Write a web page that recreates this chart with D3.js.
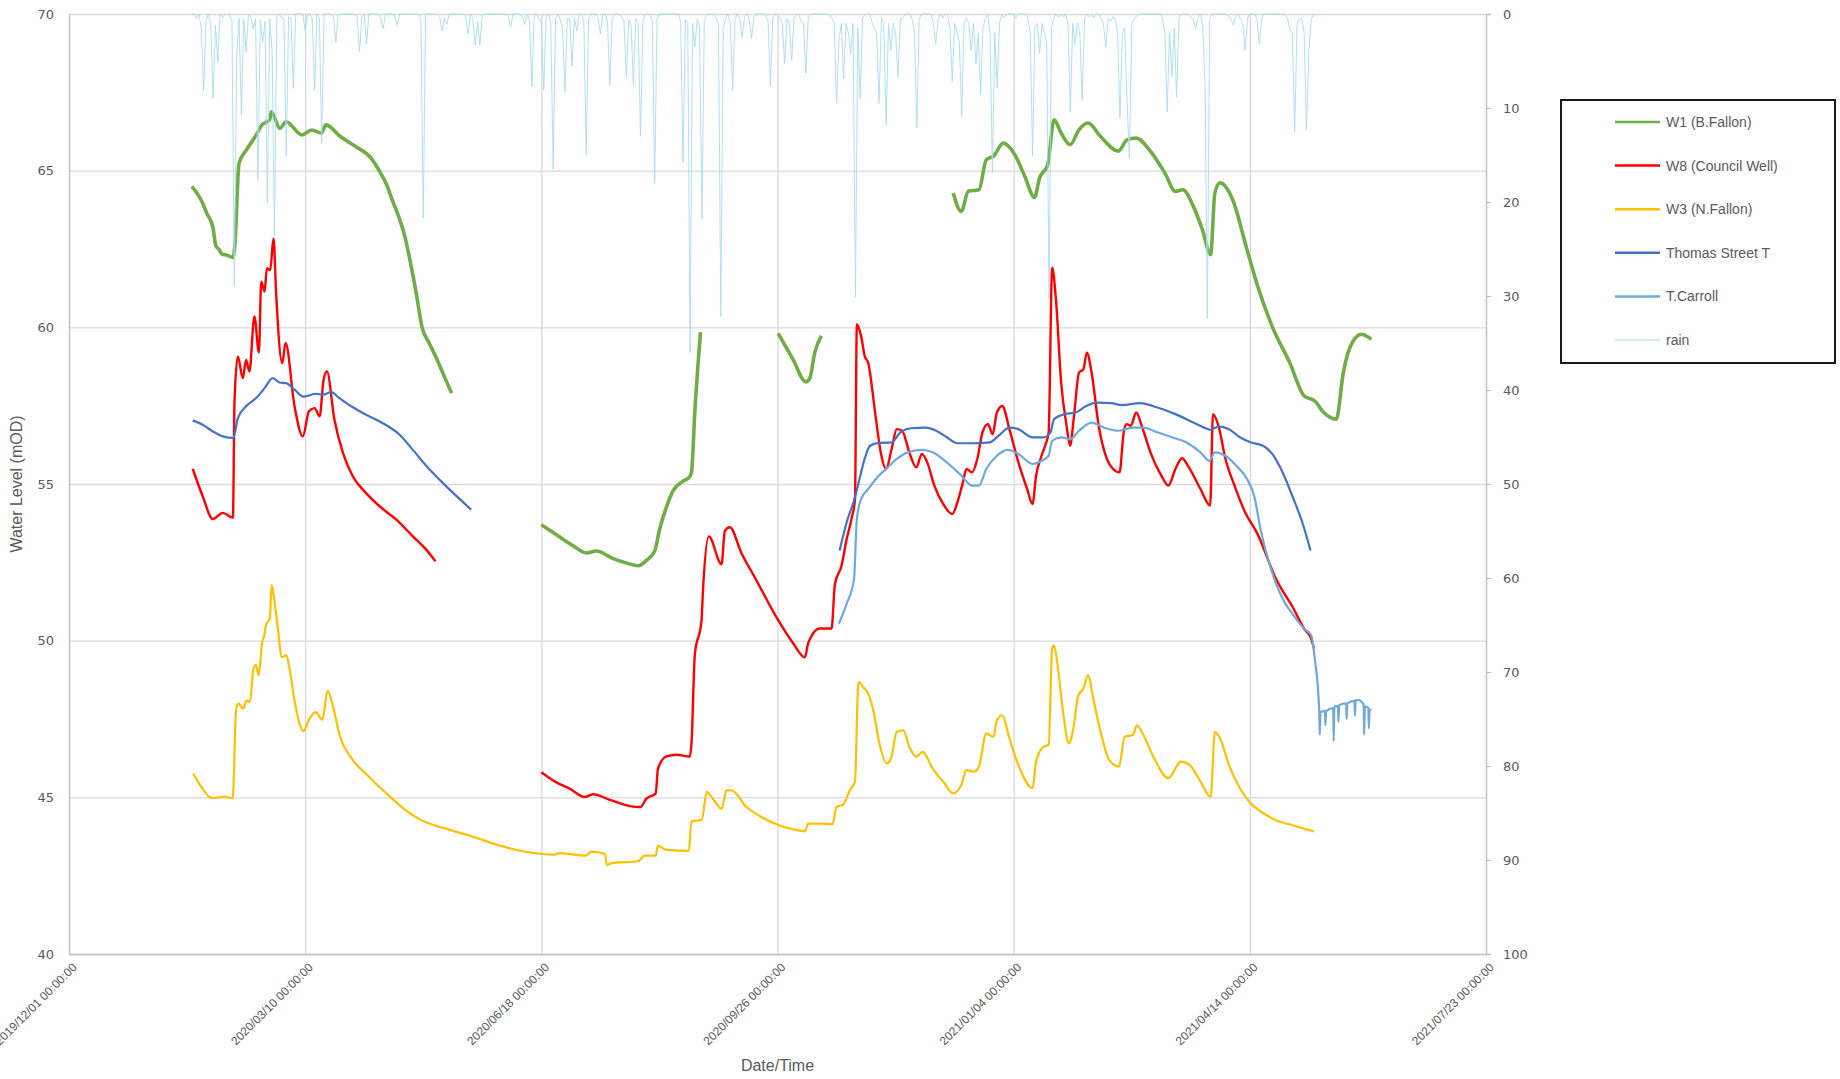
<!DOCTYPE html>
<html>
<head>
<meta charset="utf-8">
<script src="https://cdn.jsdelivr.net/npm/d3@7"></script>
<style>
  body { margin: 0; background: #fff; }
  svg { display: block; }
</style>
</head>
<body>
<div id="chart"></div>
<script>
// ---- data (days counted from 2019/12/01) ----
var tickLabels = ["2019/12/01 00:00:00","2020/03/10 00:00:00","2020/06/18 00:00:00","2020/09/26 00:00:00",
                  "2021/01/04 00:00:00","2021/04/14 00:00:00","2021/07/23 00:00:00"];
var levelTicks = [40,45,50,55,60,65,70];
var rainTicks = [0,10,20,30,40,50,60,70,80,90,100];
var seriesNames = ["W1 (B.Fallon)","W8 (Council Well)","W3 (N.Fallon)","Thomas Street T","T.Carroll","rain"];

// W1 (B.Fallon) - segments with logger gaps
var w1 = [
  [[52,64.5],[56.6,63.96],[58.2,63.66],[60.9,63.2],[62.2,62.6],[63.7,62.47],[64.7,62.34],[67,62.3],[69.5,62.23],[70.2,62.6],
   [72,65.24],[75.2,65.67],[79.3,66.14],[81.7,66.46],[84.9,66.62],[85.7,66.88],[89.3,66.35],[91.9,66.56],[98.7,66.14],
   [102.8,66.3],[106.8,66.2],[108.8,66.46],[114.9,66.09],[121.4,65.77],[127.9,65.4],[131.1,65.03],[134.5,64.55],[136.8,64.08],
   [139.5,63.55],[142,62.96],[144.5,62.1],[147,61.1],[149.5,60.0],[152.5,59.5],[155.5,59.03],[158.8,58.45],[162,57.9]],
  [[200,53.7],[206.4,53.38],[213.4,53.03],[219.1,52.8],[223.3,52.86],[230.4,52.62],[236,52.48],[241,52.39],[244.5,52.56],
   [248,52.86],[250.1,53.56],[253,54.27],[255.8,54.79],[260,55.09],[262.6,55.21],[263.6,55.38],[265,57.32],[267.4,59.85]],
  [[300.3,59.81],[306.6,58.97],[312,58.26],[313.7,58.38],[315.8,59.2],[318.6,59.73]],
  [[374.4,64.29],[377.8,63.7],[380.8,64.34],[385.3,64.39],[388.4,65.35],[391.4,65.46],[395.6,65.88],[400.5,65.51],
   [404.7,64.82],[408.8,64.15],[411,64.77],[414.4,65.19],[417.1,66.62],[420.1,66.2],[423.9,65.83],[427.7,66.31],
   [431.5,66.52],[436.8,66.09],[444.3,65.62],[448.1,65.99],[451.9,66.04],[457.9,65.62],[464,64.93],[468.5,64.34],
   [471.6,64.39],[476.1,63.86],[479.9,63.12],[483.4,62.32],[485.2,64.29],[487.4,64.61],[492.7,64.08],[498.8,62.48],
   [503.3,61.32],[509.4,60.04],[516.9,58.87],[523,57.81],[527.5,57.65],[531.3,57.28],[536.6,57.07],[539.6,58.56],
   [542.7,59.41],[547.2,59.78],[551.4,59.62]]
];

// W8 (Council Well)
var w8 = [
  [[52.4,55.48],[56.6,54.61],[60.9,53.88],[65.1,54.08],[69.4,53.92],[70.1,57.69],[71.5,59.07],[73.6,58.38],[75,58.96],
   [76.4,58.59],[78.5,60.35],[80.4,59.2],[81.4,61.46],[82.8,61.14],[83.8,61.89],[85.2,61.83],[86.6,62.84],[87.7,61.09],
   [90.3,58.86],[91.7,59.5],[95.5,57.48],[99,56.52],[101.6,57.32],[104,57.42],[106.1,57.16],[107.8,58.33],[109.2,58.59],
   [112.4,57.05],[116,55.99],[120.2,55.24],[125.8,54.71],[131.5,54.29],[138.6,53.86],[145.6,53.33],[150.6,52.96],[155.2,52.53]],
  [[200,45.8],[205.6,45.51],[212,45.28],[218.4,45.01],[221.9,45.1],[229,44.92],[237.4,44.72],[241.9,44.69],[244.5,44.96],
   [248.4,45.12],[249.4,45.92],[253,46.31],[257.2,46.36],[262.9,46.3],[263.6,46.75],[265,49.57],[267.8,50.62],[268.5,51.68],
   [270.9,53.33],[276.3,52.44],[277.7,53.5],[279.8,53.62],[284.7,52.8],[291.1,51.92],[299.6,50.74],[306.6,49.92],
   [311.6,49.47],[313,49.92],[317.9,50.39],[322.9,50.39],[324.3,51.8],[327.1,52.39],[329.2,53.21],[331.4,53.91],
   [332.8,54.5],[333.6,60.1],[335.4,59.72],[336.9,59.09],[338.4,58.87],[341.5,57.18],[343.7,56.01],[346,55.48],
   [348.3,56.11],[350.5,56.75],[352.8,56.7],[355.8,56.01],[358.8,55.53],[361.1,55.96],[363.4,55.69],[366.4,54.95],
   [370.2,54.36],[374,54.04],[376.2,54.42],[378.5,55.05],[380,55.48],[382.3,55.37],[384.6,55.8],[386.8,56.65],
   [389.1,56.91],[391.1,56.59],[392.9,57.28],[395.2,57.49],[398.2,56.75],[402,55.69],[405.7,54.84],[408,54.36],
   [409.5,55.27],[411.8,55.9],[413.3,56.22],[414.8,56.65],[416.3,61.9],[417.9,60.89],[420.1,58.24],[422.4,56.86],
   [423.9,56.22],[425.4,57.07],[427.7,58.56],[429.5,58.66],[431,59.19],[433,58.56],[436,56.86],[439,55.9],[442.1,55.48],
   [444.8,55.37],[446.6,56.65],[447.8,56.91],[449.6,56.86],[451.9,57.28],[454.2,56.86],[457.9,56.01],[462.5,55.27],
   [465.5,54.95],[468.5,55.48],[471.3,55.82],[473.8,55.58],[479.1,54.84],[483.2,54.31],[484.4,57.23],[486.7,56.86],
   [489.7,55.8],[493.5,54.95],[498,54.1],[503.3,53.4],[510.9,52.0],[518.5,51.02],[523,50.38],[526,50.06],[527.2,49.75]]
];

// W3 (N.Fallon)
var w3 = [
  [[52.6,45.76],[55.5,45.39],[60.6,44.97],[65.7,45.02],[69.3,44.97],[70.8,47.83],[71.8,47.99],[73.7,47.83],[75.2,48.09],
   [76.6,48.04],[78.1,49.1],[79.1,49.23],[80.3,48.89],[81.8,49.95],[82.5,50.11],[83.5,50.53],[85,50.69],[85.8,51.77],
   [86.9,51.32],[88.3,50.48],[90.2,49.47],[92,49.54],[93.4,49.1],[95.6,48.04],[99.3,47.11],[101.5,47.46],[104.4,47.72],
   [107.3,47.48],[109.5,48.41],[111.7,47.93],[114.6,46.98],[119.7,46.24],[127,45.66],[134.3,45.13],[141.6,44.65],
   [148.9,44.28],[159.1,44.01],[170.8,43.75],[181,43.49],[192.7,43.27],[205.8,43.17],[207.3,43.22],[219,43.14],
   [221.2,43.27],[227,43.19],[227.7,42.85],[229.9,42.9],[240.9,42.96],[243.8,43.14],[248.5,43.14],[249.3,43.46],
   [252.6,43.33],[262.5,43.29],[263.5,44.23],[267.9,44.28],[270.1,45.18],[271.5,45.07],[274.5,44.76],[276.3,44.63],
   [278.4,45.22],[280.5,45.22],[286.9,44.69],[293.9,44.34],[301,44.1],[306.6,43.98],[311.6,43.92],[313,44.16],
   [317.9,44.16],[323.3,44.14],[325,44.69],[327.8,44.77],[330.6,45.22],[332.8,45.51],[334.2,48.62],[334.6,48.68],
   [336.2,48.52],[338.4,48.31],[340.7,47.73],[343,46.77],[346.3,46.08],[348.3,46.3],[350.5,47.09],[353.3,47.14],
   [355.8,46.61],[358.8,46.3],[361.4,46.45],[365.7,45.92],[370.2,45.5],[374.4,45.13],[377.8,45.39],[380,45.87],
   [383.1,45.82],[385.3,45.98],[388.4,47.04],[391.4,46.93],[392.9,47.46],[395.2,47.62],[398.2,46.88],[402,46.03],
   [408,45.29],[409.5,46.14],[412.6,46.61],[414.8,46.67],[416.3,49.75],[417.1,49.85],[418.6,49.21],[420.9,47.73],
   [423.4,46.72],[425.4,47.25],[427.4,48.26],[429.5,48.47],[431.5,48.9],[433.7,48.15],[436.8,47.09],[440.5,46.19],
   [444.6,45.98],[447,46.93],[450.4,46.99],[452.2,47.3],[454.9,46.99],[459.5,46.24],[465.5,45.61],[470.8,46.14],
   [474.6,46.03],[479.1,45.5],[483.4,45.02],[485.2,47.09],[487.4,46.88],[491.2,46.03],[495.8,45.29],[500.3,44.81],
   [504.8,44.54],[510.9,44.28],[518.5,44.1],[527.2,43.91]]
];

// Thomas Street T
var thomas = [
  [[52.4,57.03],[56.6,56.89],[60.9,56.68],[65.1,56.52],[69.6,56.47],[71.5,57.1],[75,57.48],[79.9,57.79],[82.8,58.06],
   [86.3,58.38],[89.1,58.24],[91.9,58.22],[95.5,58.01],[99.3,57.79],[104.7,57.88],[107.5,57.85],[111,57.93],[114.5,57.74],
   [119.5,57.48],[125.8,57.21],[132.9,56.94],[140,56.57],[145.6,56.09],[152.7,55.46],[161.2,54.82],[170.3,54.18]],
  [[326.3,52.88],[329.3,53.78],[332.4,54.47],[335.4,55.37],[336.9,55.8],[339.2,56.22],[343,56.31],[348.3,56.33],
   [352,56.65],[356.6,56.78],[362.6,56.8],[367.2,56.7],[371.7,56.49],[376.2,56.3],[382.3,56.3],[389.9,56.33],
   [393.6,56.54],[398.2,56.8],[402,56.75],[408,56.49],[412.6,56.49],[415.6,56.65],[417.1,57.07],[421.6,57.23],
   [426.2,57.28],[430.7,57.49],[435.2,57.6],[441.3,57.58],[445.8,57.52],[453.4,57.58],[460.9,57.44],[468.5,57.23],
   [476.1,56.96],[480.6,56.8],[483.4,56.73],[486.7,56.84],[491.2,56.75],[495.8,56.49],[500.3,56.33],[505.6,56.22],
   [510.1,55.9],[513.9,55.37],[518.5,54.52],[522.2,53.78],[525.7,52.88]]
];

// T.Carroll
var carroll = [
  [[326,50.54],[329.3,51.18],[332.4,51.97],[333.6,53.89],[335.4,54.52],[338.4,54.84],[342.2,55.21],[346,55.48],
   [350.5,55.8],[355.1,56.01],[361.1,56.09],[365.7,56.01],[371.7,55.69],[377.8,55.27],[382.3,54.95],[385.3,54.95],
   [388.4,55.48],[392.9,55.9],[397.4,56.09],[402,55.96],[408,55.64],[411.8,55.74],[414.8,55.9],[416.3,56.38],
   [420.1,56.49],[423.9,56.43],[427.7,56.7],[433,56.96],[438.3,56.8],[444.3,56.7],[450.4,56.8],[454.9,56.8],
   [460.9,56.65],[467,56.49],[473,56.33],[479.1,56.01],[482.9,55.74],[485.2,56.01],[489.7,55.9],[494.3,55.58],
   [498.8,55.16],[501.8,54.63],[504.8,53.46],[509.4,52.19],[513.9,51.34],[518.5,50.81],[523,50.38],[526,50.17],
   [527.5,49.43],[529.4,47.73],[529.6,47.0],[529.9,47.73],[531.8,47.75],[532,47.3],[532.3,47.75],[535.3,47.85],
   [535.5,46.8],[535.8,47.9],[537.3,47.9],[537.5,47.4],[537.8,47.95],[540.8,48.0],[541,47.5],[541.3,48.0],
   [544.3,48.08],[544.5,47.6],[544.8,48.1],[546,48.1],[548.2,47.95],[548.4,47.0],[548.7,47.9],[550.2,47.85],
   [550.4,47.2],[550.7,47.8],[551.4,47.78]]
];

// daily rain (mm), first value is day 52
var rainStartDay = 52;
var rain = [
  0,0,0.5,0,1.5,8.1,0.7,0,1.0,9.0,
  1.2,5.1,0,0.4,0,0,0,0.8,28.9,4.4,
  0.5,10.7,0.6,4.0,0,0.4,1.6,0.5,17.6,0.6,
  3.0,0.8,20.1,0.5,3.9,23.6,0.3,0,0.4,0.5,
  15.1,0.3,0.5,7.9,0,0,0,0,1.8,0,
  0,0.6,8.1,0,0.4,13.7,0,0,0,0,
  0.3,3.0,0,0,0,0,0,0,0,0,
  0.5,4.0,0.4,0,3.2,0,0,0,0,0,
  0.4,1.6,0,0,0,0,0.3,1.2,0,0,
  0,0,0,0,0,0,0,0.5,21.7,0,
  0,0,0,0,0,0.4,1.8,0.5,1.1,0,
  0,0,0,0,0,0,0.4,2.1,0,0.5,
  3.3,0.8,3.3,0,0,0,0,0,0,0,
  0,0,0,0,0.3,1.4,0,0,0,0,
  0.4,1.1,0,0.6,7.7,0,0,0.5,1.0,8.1,
  0.4,0,0.8,16.5,0.5,0,0.6,1.5,8.3,0.5,
  0.5,5.5,0.4,1.8,0,0,0.8,15.0,0.5,0,
  0,0,0.4,2.1,0,0,0.8,7.6,0.5,0,
  0,0,0.3,0.8,6.7,0.6,1.2,7.6,0.5,1.0,
  13.0,0.8,0,0,0,0.8,18.0,0.5,0,0,
  0,0,0,0,0,0,0,0.8,15.8,0.6,
  1.0,36.0,1.0,3.5,0.5,1.5,21.8,0.8,0,0,
  0,0,0.5,1.0,32.2,1.5,0.5,0,1.0,8.1,
  0.5,0,0.5,2.5,0.3,0,0.6,2.6,0.4,0,
  0,0,0,0,0.8,7.7,0.4,0,0,0.5,
  1.0,5.3,0.5,1.0,4.9,0.5,0,0,0.8,1.0,
  6.3,0.5,0,0,0,0,0,0,0,0,
  0,0.5,1.0,9.5,2.8,1.0,6.9,1.0,2.0,4.2,
  1.0,30.1,1.5,9.0,0.5,0,0,0,0.8,1.5,
  2.0,9.5,0.4,1.0,11.8,1.0,3.9,1.0,2.0,6.7,
  0.5,0.5,0,0,0,0.5,2.0,12.1,0.5,0,
  0,0,0,0,1.0,3.2,0.5,0,0.4,0,
  0,1.5,7.2,1.0,2.0,3.0,10.9,1.0,0.4,1.0,
  3.9,1.0,5.3,2.0,8.5,1.5,0.5,0,2.0,16.9,
  2.0,7.9,1.0,0,0.4,0,0,0,0,0.5,
  0,0,0,0,0.5,2.0,15.1,1.5,1.0,4.2,
  1.0,2.0,3.0,30.3,1.5,0.5,0,0.4,0,0.3,
  0,1.0,10.4,1.0,3.2,1.0,2.0,9.2,0.5,0,
  0.3,0,0.4,0,0,0.5,1.0,3.5,0.5,0.8,
  0.3,0.5,2.0,11.1,2.0,1.5,9.2,15.3,1.0,0.5,
  0.3,0,0,0,0,0,0,0,0,0,
  0,0.5,2.0,10.4,2.0,6.7,1.5,8.8,0.5,0,
  0,0,0,0.4,0.5,1.6,0.4,0,1.0,6.9,
  32.4,0.5,0,0,0,0,0,0,0,0.3,
  0.5,1.2,0.3,0,0.5,1.0,3.9,0.5,0,0,
  0,0.5,3.2,0.5,0,0,0,0,0,0,
  0,0,0,0,0.5,1.8,2.0,12.5,1.0,0.5,
  0.5,2.0,12.3,3.9,0.5,0
];

// ---- chart ----
var W = 1840, H = 1079;
var margin = {top: 14, right: 354, bottom: 125, left: 69};
var plotW = W - margin.left - margin.right;   // 1417
var plotH = H - margin.top - margin.bottom;   // 940

var parseTick = d3.utcParse("%Y/%m/%d %H:%M:%S");
var tickDates = tickLabels.map(parseTick);
var t0 = tickDates[0];
function toDate(day) { return new Date(t0.getTime() + day * 864e5); }

var x = d3.scaleUtc().domain([tickDates[0], tickDates[tickDates.length - 1]]).range([0, plotW]);
var yL = d3.scaleLinear().domain([40, 70]).range([plotH, 0]);
var yR = d3.scaleLinear().domain([0, 100]).range([0, plotH]);

var svg = d3.select("#chart").append("svg").attr("width", W).attr("height", H);
var g = svg.append("g").attr("transform", "translate(" + margin.left + "," + margin.top + ")");

var gridColor = "#d9d9d9", axisColor = "#bfbfbf", textColor = "#595959";

// gridlines
g.append("g").call(d3.axisLeft(yL).tickValues(levelTicks).tickSize(-plotW).tickFormat(""))
  .call(function(s) { s.select(".domain").remove(); s.selectAll("line").attr("stroke", gridColor).attr("stroke-width", 1.3); });
g.append("g").attr("transform", "translate(0," + plotH + ")")
  .call(d3.axisBottom(x).tickValues(tickDates).tickSize(-plotH).tickFormat(""))
  .call(function(s) { s.select(".domain").remove(); s.selectAll("line").attr("stroke", gridColor).attr("stroke-width", 1.3); });

// left axis
g.append("g").call(d3.axisLeft(yL).tickValues(levelTicks).tickSize(0).tickPadding(15))
  .call(function(s) {
    s.select(".domain").attr("stroke", axisColor).attr("stroke-width", 1.3);
    s.selectAll("text").attr("fill", textColor).style("font", "13px 'DejaVu Sans'");
  });

// right axis (rain, reversed)
g.append("g").attr("transform", "translate(" + plotW + ",0)")
  .call(d3.axisRight(yR).tickValues(rainTicks).tickSize(5).tickPadding(12))
  .call(function(s) {
    s.select(".domain").attr("stroke", axisColor).attr("stroke-width", 1.3);
    s.selectAll("line").attr("stroke", axisColor);
    s.selectAll("text").attr("fill", textColor).style("font", "13px 'DejaVu Sans'");
  });

// bottom axis
var fmt = d3.utcFormat("%Y/%m/%d %H:%M:%S");
g.append("g").attr("transform", "translate(0," + plotH + ")")
  .call(d3.axisBottom(x).tickValues(tickDates).tickSize(0).tickFormat(fmt))
  .call(function(s) {
    s.select(".domain").attr("stroke", axisColor).attr("stroke-width", 1.3);
    s.selectAll("text")
      .attr("fill", textColor)
      .style("font", "12px 'Liberation Sans'")
      .style("text-anchor", "end")
      .attr("dx", "0")
      .attr("dy", "0")
      .attr("transform", "translate(6,12) rotate(-45)");
  });

// axis titles
svg.append("text").attr("transform", "translate(22," + (margin.top + plotH / 2) + ") rotate(-90)")
  .attr("text-anchor", "middle").attr("fill", textColor)
  .style("font", "16px 'Liberation Sans'").text("Water Level (mOD)");
svg.append("text").attr("x", margin.left + plotW / 2).attr("y", 1071)
  .attr("text-anchor", "middle").attr("fill", textColor)
  .style("font", "16px 'Liberation Sans'").text("Date/Time");

// series
var lineL = d3.line()
  .curve(d3.curveMonotoneX)
  .x(function(d) { return x(toDate(d[0])); })
  .y(function(d) { return yL(d[1]); });
var series = [
  {name: seriesNames[0], data: w1, color: "#70ad47", width: 3.6},
  {name: seriesNames[1], data: w8, color: "#ff0000", width: 2.4},
  {name: seriesNames[2], data: w3, color: "#ffc000", width: 2.2},
  {name: seriesNames[3], data: thomas, color: "#4472c4", width: 2.2},
  {name: seriesNames[4], data: carroll, color: "#6fa8dc", width: 2.2}
];
series.forEach(function(s) {
  g.append("g").selectAll("path").data(s.data).enter().append("path")
    .attr("d", lineL)
    .attr("fill", "none")
    .attr("stroke", s.color)
    .attr("stroke-width", s.width)
    .attr("stroke-linejoin", "round");
});

// rain on secondary axis
var rainColor = "#a9dcf3";
var lineR = d3.line()
  .x(function(d, i) { return x(toDate(rainStartDay + i)); })
  .y(function(d) { return yR(d); });
g.append("path").datum(rain)
  .attr("d", lineR)
  .attr("fill", "none")
  .attr("stroke", rainColor)
  .attr("stroke-width", 1)
  .attr("opacity", 0.9);

// legend
var legend = svg.append("g").attr("transform", "translate(1561,100)");
legend.append("rect").attr("width", 274).attr("height", 263)
  .attr("fill", "#fff").attr("stroke", "#1a1a1a").attr("stroke-width", 2);
var legendColors = series.map(function(s) { return s.color; }).concat([rainColor]);
var item = legend.selectAll(".item").data(seriesNames).enter().append("g")
  .attr("class", "item")
  .attr("transform", function(d, i) { return "translate(0," + (22 + i * 43.6) + ")"; });
item.append("line").attr("x1", 54).attr("x2", 99)
  .attr("stroke", function(d, i) { return legendColors[i]; })
  .attr("stroke-width", function(d, i) { return i === 5 ? 1 : 2.5; });
item.append("text").attr("x", 105).attr("dy", "0.35em")
  .attr("fill", textColor).style("font", "14px 'Liberation Sans'")
  .text(function(d) { return d; });
</script>
</body>
</html>
